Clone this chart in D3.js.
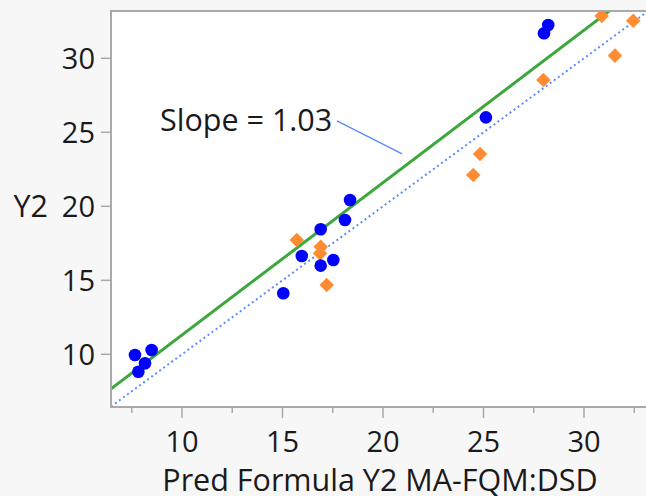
<!DOCTYPE html>
<html>
<head>
<meta charset="utf-8">
<script src="https://cdn.jsdelivr.net/npm/d3@7"></script>
<style>
    body { margin: 0; background: #f7f7f7; }
    svg { display: block; }
    text { font-family: "Open Sans", "Noto Sans", sans-serif; fill: #1a1a1a; }
</style>
</head>
<body>
<div id="grafico"></div>
<script>
// blue circles
var serie1X = [7.66, 8.49, 8.16, 7.83, 18.36, 18.11, 16.90, 15.96, 17.53, 16.90, 15.04, 28.22, 28.01, 25.12];
var serie1Y = [9.95, 10.29, 9.39, 8.82, 20.43, 19.07, 18.45, 16.64, 16.37, 15.99, 14.12, 32.25, 31.69, 26.01];
// orange diamonds
var serie2X = [15.71, 16.90, 16.87, 17.20, 30.88, 32.45, 31.54, 27.98, 24.83, 24.49];
var serie2Y = [17.72, 17.27, 16.82, 14.68, 32.86, 32.54, 30.18, 28.53, 23.53, 22.11];

var xTicks = [10, 15, 20, 25, 30];
var xMinorTicks = [7.5, 12.5, 17.5, 22.5, 27.5, 32.5];
var yTicks = [10, 15, 20, 25, 30];

var slope = 1.03;
var intercept = 1.0;
var etiquetaSlope = "Slope = 1.03";
var tituloX = "Pred Formula Y2 MA-FQM:DSD";
var tituloY = "Y2";

var W = 646, H = 496;
var m = {top: 11, right: -3, bottom: 89, left: 111};

var x = d3.scaleLinear().domain([6.468, 33.234]).range([m.left, W - m.right]);
var y = d3.scaleLinear().domain([6.439, 33.196]).range([H - m.bottom, m.top]);

var svg = d3.select("#grafico").append("svg")
    .attr("width", W)
    .attr("height", H);

svg.append("clipPath").attr("id", "clip")
    .append("rect")
    .attr("x", m.left).attr("y", m.top)
    .attr("width", x.range()[1] - m.left)
    .attr("height", y.range()[0] - m.top);

svg.append("rect")
    .attr("x", m.left).attr("y", m.top)
    .attr("width", x.range()[1] - m.left)
    .attr("height", y.range()[0] - m.top)
    .attr("fill", "#fff");

var plot = svg.append("g").attr("clip-path", "url(#clip)");

var dom = x.domain();

// y = x reference (dotted)
plot.append("line")
    .attr("x1", x(dom[0])).attr("y1", y(dom[0]))
    .attr("x2", x(dom[1])).attr("y2", y(dom[1]))
    .attr("stroke", "#5a8cff")
    .attr("stroke-width", 2)
    .attr("stroke-dasharray", "2,3");

// fit line
plot.append("line")
    .attr("x1", x(dom[0])).attr("y1", y(slope * dom[0] + intercept))
    .attr("x2", x(dom[1])).attr("y2", y(slope * dom[1] + intercept))
    .attr("stroke", "#3ca83c")
    .attr("stroke-width", 3);

var diamante = d3.symbol().type(d3.symbolDiamond2).size(135);

plot.selectAll(".diamante")
    .data(serie2X)
    .enter().append("path")
    .attr("class", "diamante")
    .attr("d", diamante)
    .attr("transform", function(d, i) { return "translate(" + x(d) + "," + y(serie2Y[i]) + ")"; })
    .attr("fill", "#ff8c33");

plot.selectAll(".punto")
    .data(serie1X)
    .enter().append("circle")
    .attr("class", "punto")
    .attr("cx", function(d) { return x(d); })
    .attr("cy", function(d, i) { return y(serie1Y[i]); })
    .attr("r", 6.3)
    .attr("fill", "#0000ff");

// frame
var x0 = m.left, y0 = y.range()[0], x1 = x.range()[1], y1 = m.top;
svg.append("path")
    .attr("d", "M" + x1 + "," + y1 + "H" + x0 + "V" + y0 + "H" + x1)
    .attr("fill", "none")
    .attr("stroke", "#a9a9a9")
    .attr("stroke-width", 2);

// axis ticks
var eje = svg.append("g");
eje.selectAll(".xt").data(xTicks).enter().append("line")
    .attr("x1", function(d) { return x(d); }).attr("x2", function(d) { return x(d); })
    .attr("y1", y0).attr("y2", y0 + 11)
    .attr("stroke", "#a9a9a9").attr("stroke-width", 1.5);
eje.selectAll(".xm").data(xMinorTicks).enter().append("line")
    .attr("x1", function(d) { return x(d); }).attr("x2", function(d) { return x(d); })
    .attr("y1", y0).attr("y2", y0 + 6)
    .attr("stroke", "#a9a9a9").attr("stroke-width", 1.5);
eje.selectAll(".yt").data(yTicks).enter().append("line")
    .attr("y1", function(d) { return y(d); }).attr("y2", function(d) { return y(d); })
    .attr("x1", x0 - 10).attr("x2", x0)
    .attr("stroke", "#a9a9a9").attr("stroke-width", 1.5);

eje.selectAll(".xl").data(xTicks).enter().append("text")
    .attr("x", function(d) { return x(d); })
    .attr("y", 452)
    .attr("text-anchor", "middle")
    .style("font-size", "29px")
    .text(function(d) { return d; });

eje.selectAll(".yl").data(yTicks).enter().append("text")
    .attr("x", 95)
    .attr("y", function(d) { return y(d); })
    .attr("dy", "0.36em")
    .attr("text-anchor", "end")
    .style("font-size", "29px")
    .text(function(d) { return d; });

svg.append("text")
    .attr("x", 380)
    .attr("y", 491)
    .attr("text-anchor", "middle")
    .style("font-size", "30.5px")
    .text(tituloX);

svg.append("text")
    .attr("x", 48)
    .attr("y", y(20))
    .attr("dy", "0.36em")
    .attr("text-anchor", "end")
    .style("font-size", "30.5px")
    .text(tituloY);

// slope annotation
svg.append("line")
    .attr("x1", x(17.71)).attr("y1", y(25.77))
    .attr("x2", x(20.95)).attr("y2", y(23.54))
    .attr("stroke", "#5a8cff")
    .attr("stroke-width", 1.5);

svg.append("text")
    .attr("x", x(8.91))
    .attr("y", y(25.83))
    .attr("dy", "0.36em")
    .style("font-size", "30.5px")
    .text(etiquetaSlope);
</script>
</body>
</html>
